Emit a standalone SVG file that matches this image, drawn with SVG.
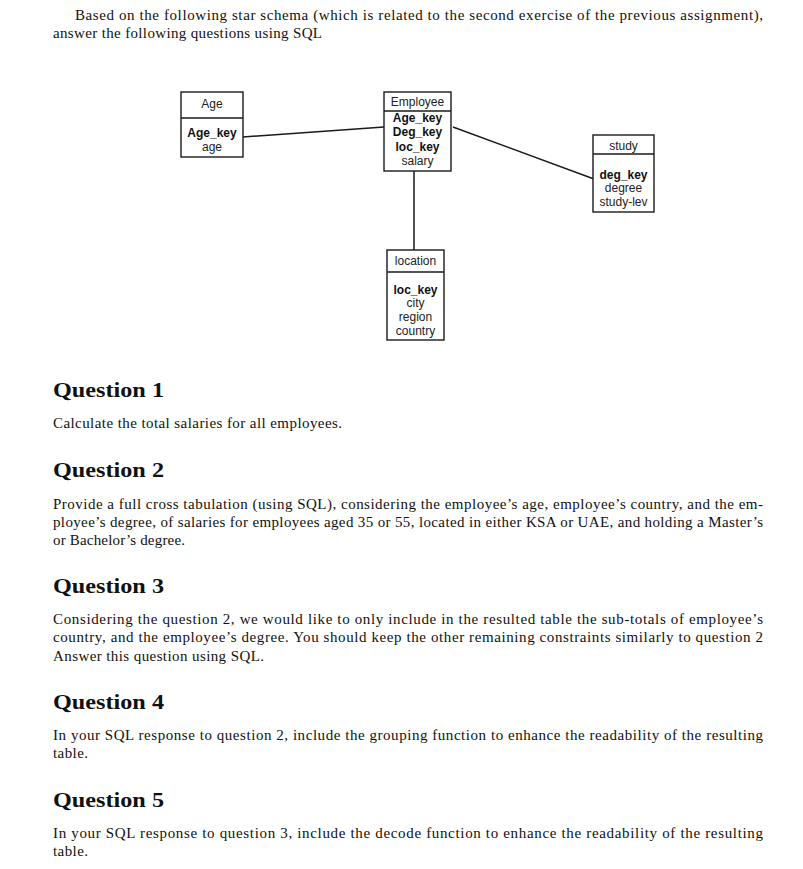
<svg xmlns="http://www.w3.org/2000/svg" width="803" height="869" viewBox="0 0 803 869">
<style>
.box{fill:#fff;stroke:#1a1a1a;stroke-width:1.4}
.div{stroke:#1a1a1a;stroke-width:1.4}
.con{stroke:#1a1a1a;stroke-width:1.5;fill:none}
.t{font-family:"Liberation Sans",Arial,sans-serif;font-size:12px;fill:#222;text-anchor:middle}
.b{font-weight:bold;fill:#111}
.p{font-family:"Liberation Serif","Times New Roman",serif;font-size:15px;fill:#111}
.h{font-family:"Liberation Serif","Times New Roman",serif;font-size:20.5px;font-weight:bold;fill:#111}
</style>
<rect width="803" height="869" fill="#fff"/>
<text class="p" x="75" y="20" textLength="688" lengthAdjust="spacing">Based on the following star schema (which is related to the second exercise of the previous assignment),</text>
<text class="p" x="53" y="38" textLength="269" lengthAdjust="spacing">answer the following questions using SQL</text>
<g id="connectors">
<line class="con" x1="243" y1="137" x2="384" y2="127"/>
<line class="con" x1="453" y1="127" x2="594" y2="179"/>
<line class="con" x1="414" y1="171" x2="414" y2="250"/>
</g>
<g id="age">
<rect class="box" x="181" y="92" width="62" height="65"/>
<line class="div" x1="181" y1="118" x2="243" y2="118"/>
<text class="t" x="212" y="108">Age</text>
<text class="t b" x="212" y="137">Age_key</text>
<text class="t" x="212" y="151">age</text>
</g>
<g id="employee">
<rect class="box" x="384" y="92" width="67" height="79"/>
<line class="div" x1="384" y1="111" x2="451" y2="111"/>
<text class="t" x="417.5" y="106">Employee</text>
<text class="t b" x="417.5" y="122">Age_key</text>
<text class="t b" x="417.5" y="136">Deg_key</text>
<text class="t b" x="417.5" y="151">loc_key</text>
<text class="t" x="417.5" y="165">salary</text>
</g>
<g id="study">
<rect class="box" x="593" y="135" width="61" height="77"/>
<line class="div" x1="593" y1="154" x2="654" y2="154"/>
<text class="t" x="623.5" y="149.5">study</text>
<text class="t b" x="623.5" y="179">deg_key</text>
<text class="t" x="623.5" y="192">degree</text>
<text class="t" x="623.5" y="206">study-lev</text>
</g>
<g id="location">
<rect class="box" x="387" y="250" width="57" height="90"/>
<line class="div" x1="387" y1="272" x2="444" y2="272"/>
<text class="t" x="415.5" y="265">location</text>
<text class="t b" x="415.5" y="294">loc_key</text>
<text class="t" x="415.5" y="307">city</text>
<text class="t" x="415.5" y="321">region</text>
<text class="t" x="415.5" y="335">country</text>
</g>
<text class="h" x="53" y="397" textLength="111" lengthAdjust="spacingAndGlyphs">Question 1</text>
<text class="p" x="53" y="428" textLength="289" lengthAdjust="spacing">Calculate the total salaries for all employees.</text>
<text class="h" x="53" y="477" textLength="111" lengthAdjust="spacingAndGlyphs">Question 2</text>
<text class="p" x="53" y="509" textLength="710" lengthAdjust="spacing">Provide a full cross tabulation (using SQL), considering the employee’s age, employee’s country, and the em-</text>
<text class="p" x="53" y="527" textLength="710" lengthAdjust="spacing">ployee’s degree, of salaries for employees aged 35 or 55, located in either KSA or UAE, and holding a Master’s</text>
<text class="p" x="53" y="545" textLength="132" lengthAdjust="spacing">or Bachelor’s degree.</text>
<text class="h" x="53" y="593" textLength="111" lengthAdjust="spacingAndGlyphs">Question 3</text>
<text class="p" x="53" y="624" textLength="710" lengthAdjust="spacing">Considering the question 2, we would like to only include in the resulted table the sub-totals of employee’s</text>
<text class="p" x="53" y="642" textLength="710" lengthAdjust="spacing">country, and the employee’s degree. You should keep the other remaining constraints similarly to question 2</text>
<text class="p" x="53" y="661" textLength="211" lengthAdjust="spacing">Answer this question using SQL.</text>
<text class="h" x="53" y="709" textLength="111" lengthAdjust="spacingAndGlyphs">Question 4</text>
<text class="p" x="53" y="740" textLength="710" lengthAdjust="spacing">In your SQL response to question 2, include the grouping function to enhance the readability of the resulting</text>
<text class="p" x="53" y="758" textLength="35" lengthAdjust="spacing">table.</text>
<text class="h" x="53" y="807" textLength="111" lengthAdjust="spacingAndGlyphs">Question 5</text>
<text class="p" x="53" y="838" textLength="710" lengthAdjust="spacing">In your SQL response to question 3, include the decode function to enhance the readability of the resulting</text>
<text class="p" x="53" y="856" textLength="35" lengthAdjust="spacing">table.</text>
</svg>
